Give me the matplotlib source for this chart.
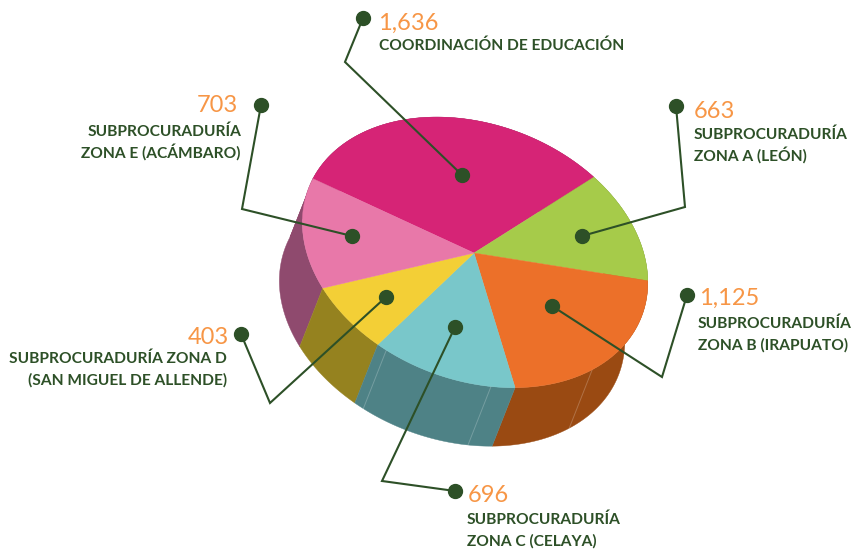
import numpy as np
import matplotlib
matplotlib.use("Agg")
import matplotlib.pyplot as plt
from matplotlib.patches import Polygon

# ---- data ----
names = ["COORDINACIÓN DE EDUCACIÓN", "SUBPROCURADURÍA\nZONA A (LEÓN)",
         "SUBPROCURADURÍA\nZONA B (IRAPUATO)", "SUBPROCURADURÍA\nZONA C (CELAYA)",
         "SUBPROCURADURÍA ZONA D\n(SAN MIGUEL DE ALLENDE)", "SUBPROCURADURÍA\nZONA E (ACÁMBARO)"]
values = [1636, 663, 1125, 696, 403, 703]
value_labels = ["1,636", "663", "1,125", "696", "403", "703"]
top_colors = ["#D62476", "#A6CB4A", "#EC7029", "#79C7CA", "#F3CF36", "#E878A9"]
wall_colors = ["#8E2A58", "#6E8A30", "#9A4A12", "#4E8286", "#95821F", "#8F4A6E"]

# ---- projection of the unit pie onto the page (tilted disc) ----
rim_px = np.array([[594, 178], [648, 280], [515, 388], [378, 344], [323, 289], [313, 178]], float)
apex_px = np.array([474, 253], float)
shift = np.array([-23.0, 58.5])
start_deg = 40.0

fractions = np.array(values, float) / sum(values)
edges = np.radians(start_deg - 360 * np.concatenate([[0], np.cumsum(fractions)]))

def fit_homography(src, dst):
    rows = []
    for (x, y), (u, v) in zip(src, dst):
        rows.append([x, y, 1, 0, 0, 0, -u * x, -u * y, -u])
        rows.append([0, 0, 0, x, y, 1, -v * x, -v * y, -v])
    return np.linalg.svd(np.array(rows))[2][-1].reshape(3, 3)

src = np.vstack([np.c_[np.cos(edges[1:]), np.sin(edges[1:])], [[0, 0]]])
dst = np.vstack([rim_px, apex_px])
H = fit_homography(src, dst)

def project(theta):
    pts = np.c_[np.cos(theta), np.sin(theta), np.ones_like(theta)] @ H.T
    return pts[:, :2] / pts[:, 2:]

# ---- figure ----
plt.rcParams["font.family"] = ["Lato", "DejaVu Sans"]
fig = plt.figure(figsize=(8.54, 5.51), dpi=100)
ax = fig.add_axes([0, 0, 1, 1])
ax.set_xlim(0, 854)
ax.set_ylim(551, 0)
ax.axis("off")

# walls, back to front
wall_order = [0, 1, 5, 2, 4, 3]
for i in wall_order:
    arc = project(np.linspace(edges[i], edges[i + 1], 80))
    ax.add_patch(Polygon(np.vstack([arc, (arc + shift)[::-1]]), closed=True,
                         fc=wall_colors[i], ec=wall_colors[i], lw=0.3, zorder=2))

# facet seams on the walls: slice index, position along the slice
seam_slice = [3, 3, 2]
seam_pos = [0.93, 0.17, 0.62]
for s, p in zip(seam_slice, seam_pos):
    t = edges[s] + p * (edges[s + 1] - edges[s])
    a = project(np.array([t]))[0]
    b = a + shift
    ax.plot([a[0], b[0]], [a[1], b[1]], color="white", alpha=0.22, lw=0.7, zorder=2.5)

# top faces
for i in range(len(values)):
    arc = project(np.linspace(edges[i], edges[i + 1], 120))
    ax.add_patch(Polygon(np.vstack([apex_px, arc]), closed=True,
                         fc=top_colors[i], ec=top_colors[i], lw=0.3, zorder=3))

# leaders
GREEN = "#2D5027"
leaders = [[(363, 18), (345, 62), (462, 175)],
           [(676, 106), (685, 207), (582, 236)],
           [(687, 295), (662, 377), (552, 306)],
           [(455, 491), (382, 481), (455, 327)],
           [(241, 334), (270, 403), (386, 297)],
           [(261, 105), (242, 209), (352, 236)]]
for pts in leaders:
    xs, ys = zip(*pts)
    ax.plot(xs, ys, color=GREEN, lw=1.5, zorder=4, solid_joinstyle="miter")
    ax.plot([xs[0], xs[-1]], [ys[0], ys[-1]], ls="none", marker="o", ms=10, mfc=GREEN, mec=GREEN, zorder=5)

# text anchors: value (x, baseline), name (x, first baseline), alignment
value_pos = [(378, 30), (694, 118), (699, 305), (468, 502), (229, 344), (238, 112)]
name_pos = [(379, 50), (694, 139), (698, 328), (467, 524), (227, 363), (241, 136)]
aligns = ["left", "left", "left", "left", "right", "right"]
line_step = 22
for lab, name, vp, np_, al in zip(value_labels, names, value_pos, name_pos, aligns):
    ax.text(vp[0], vp[1], lab, color="#F79646", fontsize=17, ha=al, va="baseline", zorder=6)
    for k, line in enumerate(name.split("\n")):
        ax.text(np_[0], np_[1] + k * line_step, line, color=GREEN, fontsize=11.2, fontweight="bold",
                ha=al, va="baseline", zorder=6)

fig.savefig("out.png", dpi=100)
